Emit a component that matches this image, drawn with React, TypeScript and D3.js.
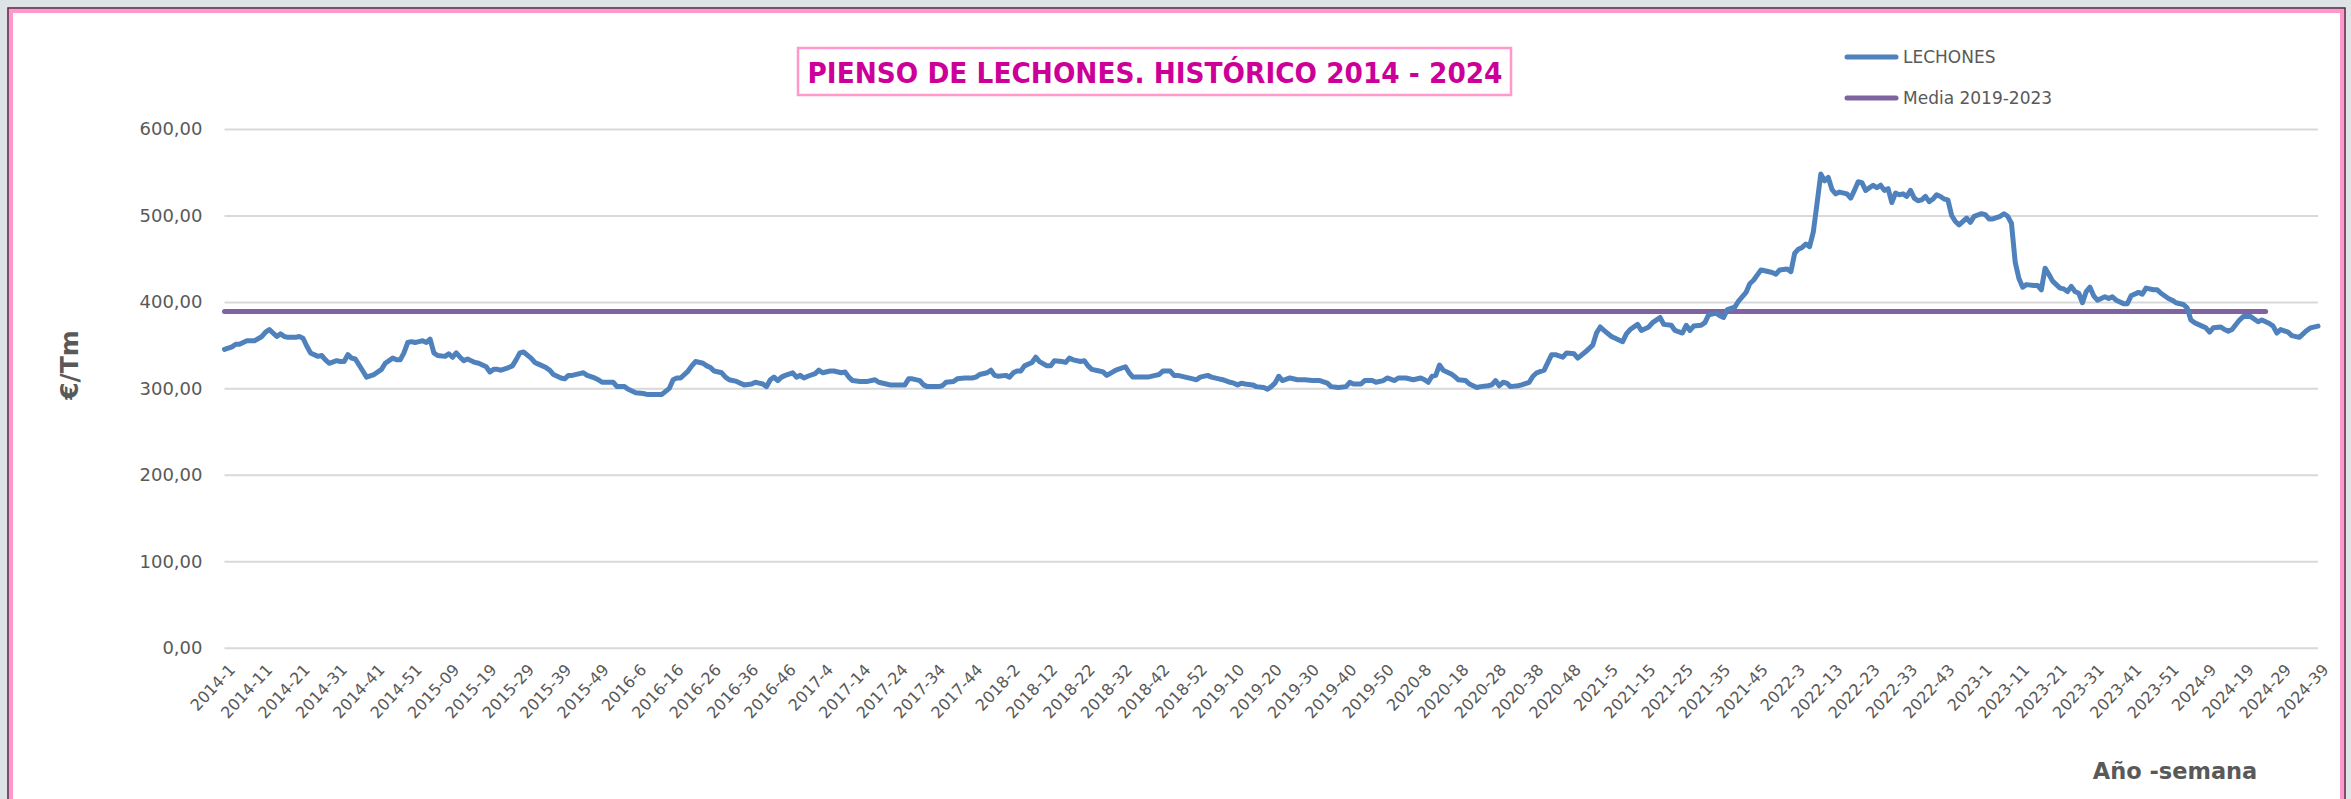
import { useEffect, useRef } from 'react';
import * as d3 from 'd3';

// weeks per year shown on the x axis (2015 and 2020 have 53 ISO weeks)
const weeksPerYear: [number, number][] = [
  [2014, 52], [2015, 53], [2016, 52], [2017, 52], [2018, 52], [2019, 52],
  [2020, 53], [2021, 52], [2022, 52], [2023, 52], [2024, 39],
];

const weekLabels: string[] = weeksPerYear.flatMap(([year, n]) =>
  d3.range(1, n + 1).map(w => `${year}-${year === 2015 ? String(w).padStart(2, '0') : w}`)
);

// LECHONES price (€/Tm): [week index from 2014-1, value]
const lechones: [number, number][] = [
  [0, 345], [2, 348], [3, 351], [4, 351], [6, 355], [7, 355], [8, 355], [10, 360], [11, 365], [12, 368],
  [14, 360], [15, 363], [16, 360], [17, 359], [19, 359], [20, 360], [21, 358], [22, 349], [23, 341], [25, 337],
  [26, 338], [27, 333], [28, 329], [30, 332], [31, 331], [32, 331], [33, 339], [34, 335], [35, 334], [37, 320],
  [38, 313], [40, 316], [42, 322], [43, 329], [45, 335], [46, 333], [47, 333], [48, 341], [49, 353], [50, 354],
  [51, 353], [52, 354], [53, 355], [54, 353], [55, 357], [56, 341], [57, 338], [59, 337], [60, 340], [61, 336],
  [62, 341], [63, 336], [64, 332], [65, 334], [67, 330], [68, 329], [69, 327], [70, 325], [71, 319], [72, 322],
  [73, 322], [74, 321], [76, 324], [77, 326], [78, 333], [79, 341], [80, 342], [82, 335], [83, 330], [84, 328],
  [86, 324], [87, 321], [88, 316], [90, 312], [91, 311], [92, 315], [93, 315], [95, 317], [96, 318], [97, 315],
  [99, 312], [100, 310], [101, 307], [103, 307], [104, 307], [105, 302], [107, 302], [108, 299], [110, 295], [112, 294],
  [113, 293], [115, 293], [116, 293], [117, 293], [119, 300], [120, 310], [121, 312], [122, 312], [124, 320], [125, 326],
  [126, 331], [128, 329], [129, 326], [130, 324], [131, 320], [133, 318], [134, 313], [135, 310], [137, 308], [138, 306],
  [139, 304], [141, 305], [142, 307], [143, 306], [144, 305], [145, 302], [146, 310], [147, 313], [148, 309], [149, 313],
  [150, 315], [152, 318], [153, 313], [154, 315], [155, 312], [156, 314], [158, 317], [159, 321], [160, 318], [162, 320],
  [163, 320], [165, 318], [166, 319], [167, 313], [168, 309], [170, 308], [171, 308], [172, 308], [174, 310], [175, 307],
  [177, 305], [178, 304], [179, 304], [181, 304], [182, 304], [183, 311], [184, 311], [186, 309], [187, 304], [188, 302],
  [190, 302], [191, 302], [192, 303], [193, 307], [195, 308], [196, 311], [198, 312], [199, 312], [200, 312], [201, 313],
  [202, 316], [204, 318], [205, 321], [206, 315], [207, 314], [209, 315], [210, 313], [211, 318], [212, 320], [213, 320],
  [214, 326], [216, 330], [217, 336], [218, 331], [220, 326], [221, 326], [222, 332], [224, 331], [225, 330], [226, 335],
  [227, 333], [229, 331], [230, 332], [231, 326], [232, 322], [234, 320], [235, 319], [236, 315], [238, 320], [239, 322],
  [241, 325], [242, 318], [243, 313], [245, 313], [246, 313], [247, 313], [249, 315], [250, 316], [251, 320], [253, 320],
  [254, 315], [255, 315], [257, 313], [259, 311], [260, 310], [261, 313], [263, 315], [264, 313], [266, 311], [267, 310],
  [269, 307], [270, 306], [271, 304], [272, 306], [273, 305], [275, 304], [276, 302], [278, 301], [279, 299], [280, 302],
  [281, 306], [282, 314], [283, 309], [285, 312], [287, 310], [289, 310], [291, 309], [293, 309], [295, 306], [296, 302],
  [298, 301], [300, 302], [301, 307], [302, 305], [304, 305], [305, 309], [307, 309], [308, 307], [310, 309], [311, 312],
  [313, 309], [314, 312], [315, 312], [316, 312], [318, 310], [320, 312], [321, 310], [322, 307], [323, 314], [324, 315],
  [325, 327], [326, 321], [328, 317], [329, 314], [330, 310], [332, 309], [333, 305], [335, 301], [336, 302], [338, 303],
  [339, 304], [340, 309], [341, 303], [342, 307], [343, 306], [344, 302], [346, 303], [347, 304], [349, 307], [350, 314],
  [351, 318], [353, 321], [354, 330], [355, 339], [356, 339], [358, 336], [359, 341], [361, 340], [362, 335], [364, 342],
  [365, 346], [366, 350], [367, 364], [368, 371], [369, 367], [371, 360], [372, 358], [374, 354], [375, 363], [376, 368],
  [378, 374], [379, 367], [381, 371], [382, 376], [384, 382], [385, 374], [387, 373], [388, 367], [390, 364], [391, 373],
  [392, 367], [393, 372], [395, 373], [396, 376], [397, 385], [399, 387], [400, 384], [401, 382], [402, 391], [404, 394],
  [405, 401], [407, 411], [408, 421], [409, 425], [411, 437], [412, 436], [414, 434], [415, 432], [416, 437], [418, 438],
  [419, 435], [420, 456], [421, 461], [422, 463], [423, 467], [424, 464], [425, 481], [426, 514], [427, 548], [428, 540],
  [429, 544], [430, 530], [431, 525], [432, 527], [434, 525], [435, 520], [436, 529], [437, 539], [438, 538], [439, 529],
  [441, 535], [442, 532], [443, 535], [444, 529], [445, 531], [446, 515], [447, 526], [448, 524], [449, 525], [450, 522],
  [451, 529], [452, 520], [453, 517], [454, 518], [455, 522], [456, 516], [457, 519], [458, 524], [459, 522], [460, 519],
  [461, 518], [462, 500], [463, 493], [464, 489], [466, 497], [467, 492], [468, 499], [470, 502], [471, 501], [472, 496],
  [473, 496], [475, 499], [476, 502], [477, 499], [478, 491], [479, 446], [480, 427], [481, 417], [482, 420], [484, 419],
  [485, 419], [486, 414], [487, 439], [488, 432], [489, 424], [491, 416], [492, 415], [493, 412], [494, 418], [495, 412],
  [496, 410], [497, 399], [498, 412], [499, 417], [500, 407], [501, 402], [503, 406], [504, 404], [505, 406], [506, 402],
  [508, 398], [509, 398], [510, 407], [512, 411], [513, 409], [514, 416], [516, 414], [517, 414], [518, 410], [520, 404],
  [521, 402], [522, 399], [524, 397], [525, 393], [526, 379], [527, 376], [529, 372], [530, 370], [531, 365], [532, 370],
  [534, 371], [535, 368], [536, 366], [537, 368], [539, 379], [540, 383], [542, 383], [543, 380], [544, 377], [545, 379],
  [547, 375], [548, 372], [549, 364], [550, 368], [552, 365], [553, 361], [555, 359], [556, 363], [557, 367], [558, 370],
  [560, 372],
];

// average 2019-2023, drawn as a flat line
const mediaValue = 389;
const mediaWeeks = ['2014-1', '2024-25'];

const yTicks = [0, 100, 200, 300, 400, 500, 600];
const xTickLabels = weekLabels.filter((_, i) => i % 10 === 0);

const seriesNames = ['LECHONES', 'Media 2019-2023'];
const seriesColors = ['#4f81bd', '#8064a2'];

const title = 'PIENSO DE LECHONES. HISTÓRICO 2014 - 2024';

export default function App() {
  const svgRef = useRef<SVGSVGElement>(null);

  useEffect(() => {
    document.body.style.margin = '0';
    const W = 2351;
    const H = 799;
    const margin = { top: 129, right: 33, bottom: 151.3, left: 224.5 };
    const width = W - margin.left - margin.right;
    const height = H - margin.top - margin.bottom;

    d3.select(svgRef.current).selectAll('*').remove();
    const root = d3.select(svgRef.current).attr('width', W).attr('height', H);

    // page + frame
    root.append('rect').attr('width', W).attr('height', H).attr('fill', '#dde3e6');
    root.append('rect')
      .attr('x', 8).attr('y', 8).attr('width', 2337).attr('height', 900)
      .attr('fill', 'none').attr('stroke', '#5c1f3c').attr('stroke-width', 1.5);
    root.append('rect')
      .attr('x', 11).attr('y', 11).attr('width', 2331).attr('height', 900)
      .attr('fill', '#ffffff').attr('stroke', '#ff99cc').attr('stroke-width', 4);

    const svg = root.append('g')
      .attr('transform', `translate(${margin.left},${margin.top})`);

    const x = d3.scalePoint<string>().domain(weekLabels).range([0, width]);
    const y = d3.scaleLinear().domain([0, 600]).range([height, 0]);

    // Y axis with gridlines
    const yAxis = svg.append('g')
      .call(d3.axisLeft(y)
        .tickValues(yTicks)
        .tickSize(-width)
        .tickPadding(22)
        .tickFormat(d => d3.format('.2f')(d as number).replace('.', ',')));
    yAxis.select('.domain').remove();
    yAxis.selectAll('line').attr('stroke', '#d9d9d9').attr('stroke-width', 2);
    yAxis.selectAll('text')
      .attr('fill', '#595959')
      .style('font-family', 'DejaVu Sans, sans-serif')
      .style('font-size', '18px');

    // X axis, rotated labels every 10 weeks
    const xAxis = svg.append('g')
      .attr('transform', `translate(0,${height})`)
      .call(d3.axisBottom(x).tickValues(xTickLabels).tickSize(0));
    xAxis.select('.domain').remove();
    xAxis.selectAll('text')
      .attr('y', 0)
      .attr('dy', '0.35em')
      .attr('text-anchor', 'end')
      .attr('transform', 'translate(7,19) rotate(-47)')
      .attr('fill', '#595959')
      .style('font-family', 'DejaVu Sans, sans-serif')
      .style('font-size', '16px');

    // Media line
    const line = d3.line<[string, number]>()
      .x(d => x(d[0]) as number)
      .y(d => y(d[1]));

    svg.append('path')
      .datum(mediaWeeks.map(w => [w, mediaValue] as [string, number]))
      .attr('fill', 'none')
      .attr('stroke', seriesColors[1])
      .attr('stroke-width', 5)
      .attr('stroke-linecap', 'round')
      .attr('d', line);

    // LECHONES line
    svg.append('path')
      .datum(lechones.map(([i, v]) => [weekLabels[i], v] as [string, number]))
      .attr('fill', 'none')
      .attr('stroke', seriesColors[0])
      .attr('stroke-width', 5)
      .attr('stroke-linejoin', 'round')
      .attr('stroke-linecap', 'round')
      .attr('d', line);

    // axis titles
    root.append('text')
      .attr('transform', 'translate(78,365) rotate(-90)')
      .attr('text-anchor', 'middle')
      .attr('fill', '#595959')
      .style('font-family', 'DejaVu Sans, sans-serif')
      .style('font-size', '25px')
      .style('font-weight', 'bold')
      .text('€/Tm');

    root.append('text')
      .attr('x', 2175).attr('y', 779)
      .attr('text-anchor', 'middle')
      .attr('fill', '#595959')
      .style('font-family', 'DejaVu Sans, sans-serif')
      .style('font-size', '22.5px')
      .style('font-weight', 'bold')
      .text('Año -semana');

    // title box
    root.append('rect')
      .attr('x', 798).attr('y', 48).attr('width', 713).attr('height', 47)
      .attr('fill', '#ffffff').attr('stroke', '#ff99cc').attr('stroke-width', 2.5);
    root.append('text')
      .attr('x', 1155).attr('y', 83)
      .attr('text-anchor', 'middle')
      .attr('textLength', 695)
      .attr('lengthAdjust', 'spacingAndGlyphs')
      .attr('fill', '#cc0099')
      .style('font-family', 'DejaVu Sans, sans-serif')
      .style('font-size', '28px')
      .style('font-weight', 'bold')
      .text(title);

    // legend
    const legend = root.append('g');
    seriesNames.forEach((name, k) => {
      const ly = 57 + k * 41;
      legend.append('line')
        .attr('x1', 1847).attr('x2', 1896).attr('y1', ly).attr('y2', ly)
        .attr('stroke', seriesColors[k]).attr('stroke-width', 5)
        .attr('stroke-linecap', 'round');
      legend.append('text')
        .attr('x', 1903).attr('y', ly + 6)
        .attr('fill', '#595959')
        .style('font-family', 'DejaVu Sans, sans-serif')
        .style('font-size', '17px')
        .text(name);
    });
  }, []);

  return (
    <div>
      <svg ref={svgRef} style={{ display: 'block' }}></svg>
    </div>
  );
}
